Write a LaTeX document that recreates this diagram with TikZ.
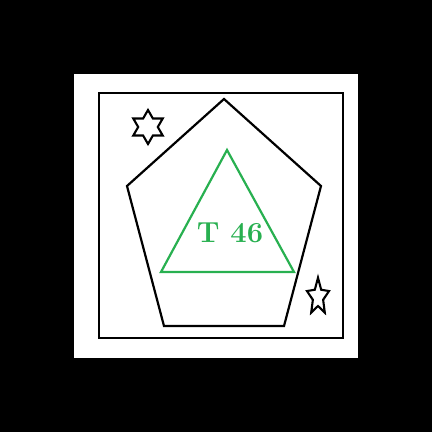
\documentclass[tikz,border=0pt]{standalone}
\definecolor{tgreen}{RGB}{40,176,80}
\begin{document}
\begin{tikzpicture}[x=1pt,y=-1pt,
  outline/.style={draw=black,line width=2.2pt,line join=miter},
  greenline/.style={draw=tgreen,line width=2.2pt,line join=miter}]
\useasboundingbox (0,0) rectangle (432,432);
\fill[black] (0,0) rectangle (432,432);
\fill[white] (74,74) rectangle (358,358);
\draw[outline] (99,93) rectangle (343,338);
% pentagon
\coordinate (p1) at (224,99);
\coordinate (p2) at (321,186);
\coordinate (p3) at (284,326);
\coordinate (p4) at (164,326);
\coordinate (p5) at (127,186);
\draw[outline] (p1) -- (p2) -- (p3) -- (p4) -- (p5) -- cycle;
% triangle
\coordinate (t1) at (227,150);
\coordinate (t2) at (294,272);
\coordinate (t3) at (161,272);
\draw[greenline] (t1) -- (t2) -- (t3) -- cycle;
\node[text=tgreen,font=\bfseries\fontsize{29}{30}\selectfont,inner sep=0pt] (lbl) at (230,233) {T 46};
% six-point star
\draw[outline,line width=2.1pt] plot[samples at={0,...,11}] ({148+(mod(\x,2)==0?17:9.8)*sin(\x*30)},{127-(mod(\x,2)==0?17:9.8)*cos(\x*30)}) -- cycle;
% five-point star
\draw[outline,line width=2.1pt] plot[samples at={0,...,9}] ({318+0.6*(mod(\x,2)==0?19.3:9)*sin(\x*36)},{297-(mod(\x,2)==0?19.3:9)*cos(\x*36)}) -- cycle;
\end{tikzpicture}
\end{document}
